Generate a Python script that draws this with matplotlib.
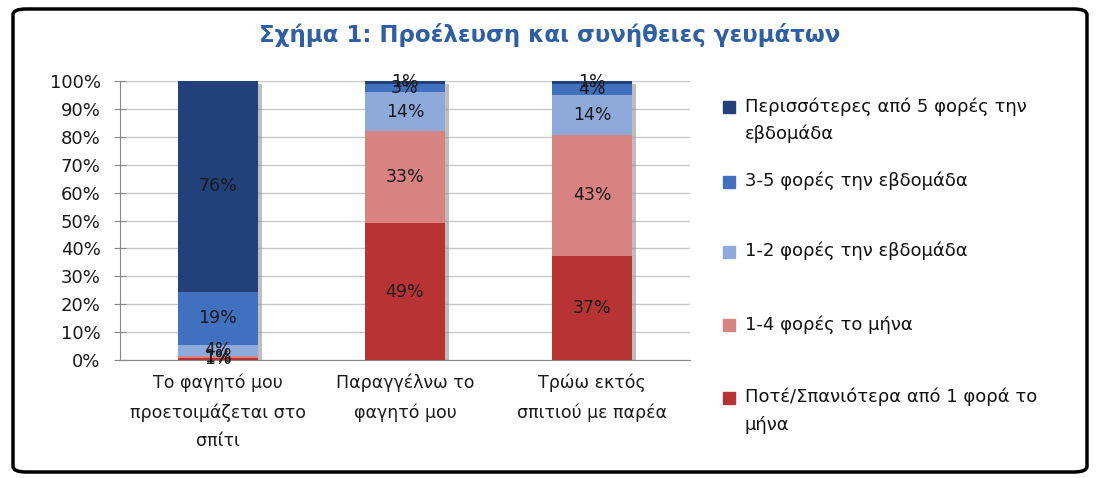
import matplotlib
matplotlib.use("Agg")
import matplotlib.pyplot as plt
from matplotlib.patches import FancyBboxPatch, Rectangle
import matplotlib.patheffects as pe
import numpy as np

plt.rcParams['font.family'] = ['DejaVu Sans']

title = "Σχήμα 1: Προέλευση και συνήθειες γευμάτων"
categories = ["Το φαγητό μου\nπροετοιμάζεται στο\nσπίτι",
              "Παραγγέλνω το\nφαγητό μου",
              "Τρώω εκτός\nσπιτιού με παρέα"]
series_names = ["Ποτέ/Σπανιότερα από 1 φορά το\nμήνα",
                "1-4 φορές το μήνα",
                "1-2 φορές την εβδομάδα",
                "3-5 φορές την εβδομάδα",
                "Περισσότερες από 5 φορές την\nεβδομάδα"]
never = [0.8, 49.0, 37.4]
month_1_4 = [0.6, 33.0, 43.4]
week_1_2 = [4.1, 14.0, 14.3]
week_3_5 = [18.9, 3.0, 3.9]
week_5plus = [75.6, 1.0, 1.0]
series_values = [never, month_1_4, week_1_2, week_3_5, week_5plus]
colors = ["#B83434", "#D98282", "#8EAADB", "#4170BF", "#22407A"]
yticks = [0, 10, 20, 30, 40, 50, 60, 70, 80, 90, 100]

W, H = 1099, 478
fig = plt.figure(figsize=(W/100, H/100), dpi=100)

frame = FancyBboxPatch((13/W, 6/H), (1087-13)/W, (469-6)/H,
                       boxstyle="round,pad=0,rounding_size=0.012",
                       transform=fig.transFigure, fill=False,
                       edgecolor="black", linewidth=2.5)
fig.patches.append(frame)

ax = fig.add_axes([120/W, 1-360/H, (690-120)/W, (360-81)/H])
x = np.arange(len(categories))
width = 0.43
totals = np.sum(np.array(series_values, dtype=float), axis=0)
sh = ax.bar(x, totals, width=width, color="white", zorder=2)
for b in sh:
    b.set_path_effects([pe.SimplePatchShadow(offset=(2.5, -2), shadow_rgbFace="#8a8a8a", alpha=0.55)])

bottom = np.zeros(len(categories))
for vals, col in zip(series_values, colors):
    vals = np.array(vals, dtype=float)
    ax.bar(x, vals, width=width, bottom=bottom, color=col, zorder=3)
    for xi, v, b0 in zip(x, vals, bottom):
        ax.text(xi, b0 + v/2, f"{round(v):.0f}%", ha="center", va="center",
                fontsize=12.5, color="#1a1a1a", zorder=5)
    bottom += vals

ax.set_xlim(-0.524, 2.524)
ax.set_ylim(0, 100)
ax.set_yticks(yticks)
ax.set_yticklabels([f"{t}%" for t in yticks], fontsize=13, color="#1a1a1a")
ax.yaxis.grid(True, color="#c8c8c8", linewidth=1, zorder=0)
ax.set_axisbelow(True)
ax.set_xticks(x)
ax.set_xticklabels(categories, fontsize=12.5, linespacing=1.75, va="top", color="#1a1a1a")
ax.tick_params(axis="x", length=0, pad=10)
ax.tick_params(axis="y", length=8, direction="inout", color="#888888", pad=10)
for s in ["top", "right"]:
    ax.spines[s].set_visible(False)
ax.spines["left"].set_color("#888888")
ax.spines["bottom"].set_color("#888888")

fig.text(550/W, 1-35/H, title, ha="center", va="center", fontsize=16.5,
         fontweight="bold", color="#2E5EA8")

legend_y = [107, 182, 252, 325, 398]
order = list(range(len(series_names)))[::-1]
for yy, i in zip(legend_y, order):
    fig.patches.append(Rectangle((723/W, 1-(yy+6)/H), 12/W, 12/H,
                                 transform=fig.transFigure, color=colors[i]))
    fig.text(745/W, 1-(yy-10)/H, series_names[i], ha="left", va="top",
             fontsize=13, linespacing=1.65, color="#111111")

fig.savefig("out.png", dpi=100)
